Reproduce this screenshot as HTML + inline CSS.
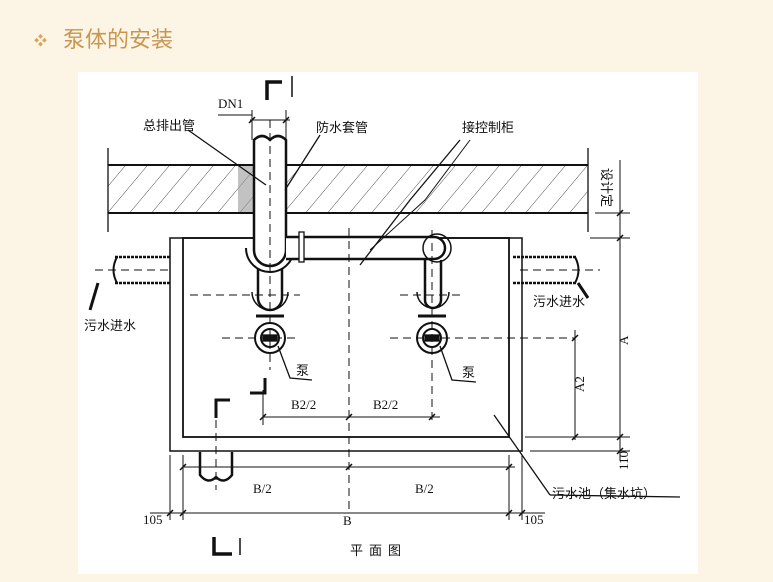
<!DOCTYPE html>
<html><head><meta charset="utf-8"><style>
html,body{margin:0;padding:0;}
body{width:773px;height:582px;background:#fcf5e6;overflow:hidden;position:relative;font-family:"Liberation Sans","Noto Sans CJK SC",sans-serif;}
.t{position:absolute;left:63px;top:22px;font-size:22px;color:#c99650;}
.d{position:absolute;left:34px;top:30px;font-size:13px;color:#d6a35a;}
svg{position:absolute;left:0;top:0;}
text{font-family:"Liberation Serif","Noto Sans CJK SC",serif;fill:#111;}
.c{position:absolute;font-family:"Noto Sans CJK SC",sans-serif;font-size:13px;line-height:14px;color:#111;white-space:nowrap;}
</style></head><body>
<div class="d">❖</div>
<div class="t">泵体的安装</div>
<svg width="773" height="582" viewBox="0 0 773 582">
<defs><pattern id="h" width="22" height="48" patternUnits="userSpaceOnUse" patternTransform="skewX(-40)"><line x1="0" y1="0" x2="0" y2="48" stroke="#222" stroke-width="1"/></pattern></defs>
<rect x="78" y="72" width="620" height="502" fill="#fff"/>
<g stroke="#111" fill="none" stroke-width="1.3">
<rect x="108" y="165" width="480" height="48" fill="url(#h)" stroke="none"/>
<line x1="108" y1="165" x2="588" y2="165" stroke-width="2"/>
<line x1="108" y1="213" x2="588" y2="213" stroke-width="2"/>
<line x1="108" y1="148" x2="108" y2="232"/>
<line x1="588" y1="148" x2="588" y2="232"/>
<rect x="238" y="166" width="46" height="46" fill="#999" stroke="none" opacity="0.6"/>
<rect x="170" y="238" width="352" height="213" stroke-width="1.5"/>
<rect x="183" y="238" width="326" height="199" stroke-width="1.8"/>
<path d="M254 140 Q262 132 270 140 Q278 132 286 140 L286 250 A16 16 0 0 1 254 250 Z" fill="#fff" stroke-width="2.5"/>
<path d="M246 248 A24 24 0 0 0 294 248" stroke-width="2"/>
<path d="M286 237 L434 237 A11 11 0 0 1 434 259 L286 259" fill="#fff" stroke-width="2.5"/>
<rect x="299" y="232" width="5" height="30" fill="#fff"/>
<circle cx="437" cy="248" r="14" stroke-width="1.5"/>
<path d="M425 260 L425 300 A8 8 0 0 0 441 300 L441 260" stroke-width="2.5"/>
<path d="M258 268 L258 298 A12 12 0 0 0 282 298 L282 268" stroke-width="2.5"/>
<path d="M417 292 A15 15 0 0 0 449 292" stroke-width="1.5"/>
<path d="M252 292 A18 18 0 0 0 288 292" stroke-width="1.5"/>
<line x1="256" y1="316" x2="284" y2="316" stroke-width="3"/>
<line x1="418" y1="316" x2="446" y2="316" stroke-width="3"/>
<circle cx="270" cy="338" r="15" stroke-width="2"/><circle cx="270" cy="338" r="9" stroke-width="2"/>
<circle cx="432" cy="338" r="15" stroke-width="2"/><circle cx="432" cy="338" r="9" stroke-width="2"/>
<rect x="263" y="335" width="14" height="6" fill="#111"/><rect x="425" y="335" width="14" height="6" fill="#111"/>
<g stroke-dasharray="8 5" stroke-width="1">
<line x1="349" y1="228" x2="349" y2="512"/>
<line x1="270" y1="120" x2="270" y2="370"/>
<line x1="432" y1="230" x2="432" y2="420"/>
<line x1="222" y1="338" x2="300" y2="338"/><line x1="390" y1="338" x2="575" y2="338"/>
<line x1="190" y1="295" x2="300" y2="295"/><line x1="400" y1="295" x2="460" y2="295"/>
<line x1="95" y1="270" x2="170" y2="270"/><line x1="520" y1="270" x2="600" y2="270"/>
<line x1="216" y1="420" x2="216" y2="490"/>
</g>
<g stroke-width="2.5"><line x1="115" y1="257" x2="170" y2="257" stroke-dasharray="3 1"/><line x1="115" y1="283" x2="170" y2="283" stroke-dasharray="3 1"/>
<line x1="513" y1="257" x2="577" y2="257" stroke-dasharray="3 1"/><line x1="513" y1="283" x2="577" y2="283" stroke-dasharray="3 1"/></g>
<path d="M117 257 Q110 270 117 283" stroke-width="2"/><path d="M575 257 Q582 270 575 283" stroke-width="2"/>
<line x1="98" y1="283" x2="90" y2="310" stroke-width="3"/><line x1="578" y1="283" x2="588" y2="298" stroke-width="3"/>
<path d="M200 452 L200 475 Q208 485 216 477 Q224 485 232 475 L232 452" stroke-width="2.5"/>
<line x1="188" y1="130" x2="266" y2="185"/>
<line x1="320" y1="135" x2="285" y2="190"/>
<path d="M460 140 L410 200 L360 265"/><path d="M470 140 L425 200 L370 250" stroke-width="1"/>
<path d="M278 346 L290 378 L312 380"/><path d="M440 346 L452 380 L476 382"/>
<line x1="494" y1="415" x2="550" y2="495"/><line x1="550" y1="495" x2="680" y2="497"/>
<g stroke-width="1">
<line x1="250" y1="120" x2="290" y2="120"/><line x1="218" y1="115" x2="252" y2="115"/>
<line x1="252" y1="110" x2="252" y2="140"/><line x1="286" y1="110" x2="286" y2="140"/>
<line x1="263" y1="417" x2="440" y2="417"/>
<line x1="263" y1="390" x2="263" y2="425"/>
<line x1="183" y1="467" x2="515" y2="467"/>
<line x1="150" y1="513" x2="545" y2="513"/>
<line x1="170" y1="455" x2="170" y2="520"/><line x1="183" y1="455" x2="183" y2="520"/>
<line x1="509" y1="455" x2="509" y2="520"/><line x1="522" y1="455" x2="522" y2="520"/>
<line x1="575" y1="330" x2="575" y2="440"/>
<line x1="620" y1="160" x2="620" y2="460"/>
<line x1="525" y1="437" x2="630" y2="437"/><line x1="530" y1="451" x2="630" y2="451"/>
<line x1="590" y1="238" x2="630" y2="238"/><line x1="595" y1="213" x2="630" y2="213"/>
</g>
<g stroke-width="1.5">
<path d="M249 123 l6 -6 M283 123 l6 -6 M260 420 l6 -6 M346 420 l6 -6 M429 420 l6 -6 M180 470 l6 -6 M346 470 l6 -6 M506 470 l6 -6 M167 516 l6 -6 M180 516 l6 -6 M506 516 l6 -6 M519 516 l6 -6 M572 341 l6 -6 M572 440 l6 -6 M617 241 l6 -6 M617 216 l6 -6 M617 440 l6 -6 M617 454 l6 -6"/>
</g>
<path d="M267 100 L267 82 L282 82" stroke-width="3.5"/><line x1="292" y1="76" x2="292" y2="97" stroke-width="1.5"/>
<path d="M216 418 L216 400 L230 400" stroke-width="3"/><path d="M250 393 L265 393 L265 378" stroke-width="3"/>
<path d="M214 537 L214 554 L232 554" stroke-width="3.5"/><line x1="240" y1="538" x2="240" y2="555" stroke-width="1.5"/>
</g>
<g font-size="13">
<text x="218" y="108">DN1</text>
<text x="291" y="409">B2/2</text><text x="373" y="409">B2/2</text>
<text x="253" y="493">B/2</text><text x="415" y="493">B/2</text>
<text x="343" y="525">B</text>
<text x="143" y="524">105</text><text x="524" y="524">105</text>
<text transform="translate(584,392) rotate(-90)">A2</text>
<text transform="translate(628,345) rotate(-90)">A</text>
<text transform="translate(628,470) rotate(-90)">110</text>
</g>
</svg>
<div class="c" style="left:143px;top:118px">总排出管</div>
<div class="c" style="left:316px;top:120px">防水套管</div>
<div class="c" style="left:462px;top:120px">接控制柜</div>
<div class="c" style="left:84px;top:318px">污水进水</div>
<div class="c" style="left:533px;top:294px">污水进水</div>
<div class="c" style="left:296px;top:363px">泵</div>
<div class="c" style="left:462px;top:365px">泵</div>
<div class="c" style="left:552px;top:486px">污水池（集水坑）</div>
<div class="c" style="left:350px;top:543px;letter-spacing:6px">平面图</div>
<div class="c" style="top:168px;transform:rotate(90deg);transform-origin:left top;left:614px">设计定</div>
</body></html>
